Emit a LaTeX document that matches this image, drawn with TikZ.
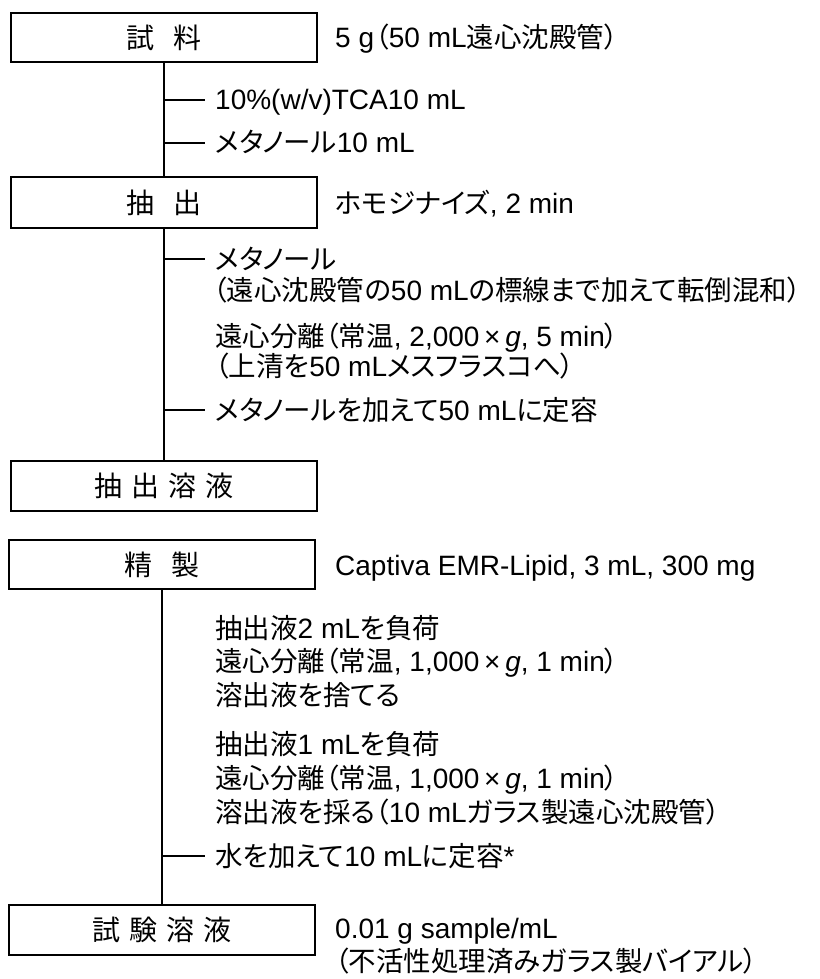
\documentclass[tikz,border=0pt]{standalone}
\usepackage{fontspec}
\setmainfont{Liberation Sans}
\newfontfamily\jfont[RawFeature=+palt]{Noto Sans CJK JP}
\newcommand\J[1]{{\jfont\fontsize{27.5}{32}\selectfont #1}}
\begin{document}
\begin{tikzpicture}[x=1pt,y=-1pt,
  stepbox/.style={draw, line width=1.5pt, minimum width=306pt, inner sep=0pt,
    font=\jfont\fontsize{28}{32}\selectfont},
  txt/.style={anchor=base west, inner sep=0pt, font=\fontsize{28}{32}\selectfont},
  conn/.style={line width=1.5pt}]
\fill[white] (0,0) rectangle (819,979);
\useasboundingbox (0,0) rectangle (819,979);

% boxes
\node[stepbox, minimum height=49pt] (b1) at (164,37.5) {試\hspace{19pt}料};
\node[stepbox, minimum height=51pt] (b2) at (164,202.5) {抽\hspace{19pt}出};
\node[stepbox, minimum height=50pt] (b3) at (164,486) {抽\hspace{9pt}出\hspace{9pt}溶\hspace{9pt}液};
\node[stepbox, minimum height=49pt] (b4) at (162,564.5) {精\hspace{19pt}製};
\node[stepbox, minimum height=50pt] (b5) at (162,930) {試\hspace{9pt}験\hspace{9pt}溶\hspace{9pt}液};

% right-hand labels
\node[txt] (r1) at (335,48) {5 g\hspace{1pt}\J{（}50 mL\J{遠心沈殿管）}};
\node[txt] (r2) at (335,213) {\J{ホモジナイズ}, 2 min};
\node[txt] (r4) at (335,575) {Captiva EMR-Lipid, 3 mL, 300 mg};
\node[txt] (r5a) at (335,938) {0.01 g sample/mL};
\node[txt] (r5b) at (335,971) {\J{（不活性処理済みガラス製バイアル）}};

% section 1
\node[txt] (t1) at (215,110) {10\%(w/v)TCA10 mL};
\node[txt] (t2) at (215,153) {\J{メタノール}10 mL};
% section 2
\node[txt] (t3) at (215,269) {\J{メタノール}};
\node[txt] (l6) at (213,300) {\J{（遠心沈殿管の}50 mL\J{の標線まで加えて転倒混和）}};
\node[txt] (l7) at (215,346) {\J{遠心分離（常温}, 2,000\,×\,\textit{g}, 5 min\J{）}};
\node[txt] (l8) at (215,376) {\J{（上清を}50 mL\J{メスフラスコへ）}};
\node[txt] (t4) at (215,420) {\J{メタノールを加えて}50 mL\J{に定容}};
% section 3
\node[txt] (l11) at (215,638) {\J{抽出液}2 mL\J{を負荷}};
\node[txt] (l12) at (215,671) {\J{遠心分離（常温}, 1,000\,×\,\textit{g}, 1 min\J{）}};
\node[txt] (l13) at (215,705) {\J{溶出液を捨てる}};
\node[txt] (l14) at (215,754) {\J{抽出液}1 mL\J{を負荷}};
\node[txt] (l15) at (215,788) {\J{遠心分離（常温}, 1,000\,×\,\textit{g}, 1 min\J{）}};
\node[txt] (l16) at (215,822) {\J{溶出液を採る（}10 mL\J{ガラス製遠心沈殿管）}};
\node[txt] (t5) at (215,866) {\J{水を加えて}10 mL\J{に定容}*};

% main flow lines
\draw[conn] (b1.south) -- (b2.north);
\draw[conn] (b2.south) -- (b3.north);
\draw[conn] (b4.south) -- (b5.north);

% tick ends
\coordinate (k1) at (205,100);
\coordinate (k2) at (205,143);
\coordinate (k3) at (205,259);
\coordinate (k4) at (205,410);
\coordinate (k5) at (205,856);
\draw[conn] (b1.south |- k1) -- (k1);
\draw[conn] (b1.south |- k2) -- (k2);
\draw[conn] (b2.south |- k3) -- (k3);
\draw[conn] (b2.south |- k4) -- (k4);
\draw[conn] (b4.south |- k5) -- (k5);
\end{tikzpicture}
\end{document}
